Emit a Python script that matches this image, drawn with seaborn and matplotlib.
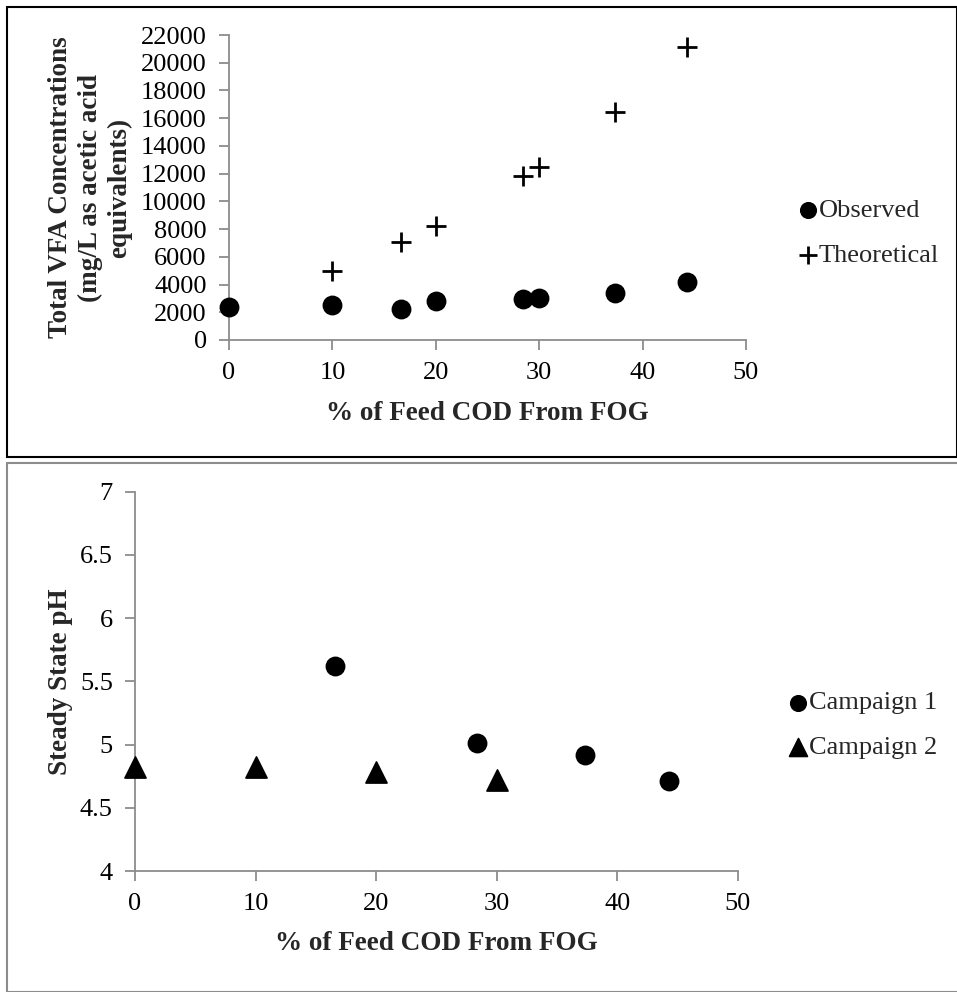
import matplotlib
matplotlib.use("Agg")
import matplotlib.pyplot as plt
import matplotlib.patches as mpatches
import pandas as pd
import seaborn as sns

# VFA data (top panel)
fog_obs = [0, 10, 16.6, 20, 28.4, 30, 37.3, 44.3]
vfa_obs = [2400, 2520, 2240, 2810, 2960, 3050, 3370, 4210]
fog_theo = [10, 16.6, 20, 28.4, 30, 37.3, 44.3]
vfa_theo = [4950, 7050, 8250, 11800, 12500, 16450, 21150]

# pH data (bottom panel)
fog_c1 = [16.6, 28.4, 37.3, 44.3]
ph_c1 = [5.62, 5.01, 4.92, 4.71]
fog_c2 = [0, 10, 20, 30]
ph_c2 = [4.82, 4.82, 4.78, 4.72]

sns.set_style("ticks")
plt.rcParams["font.family"] = ["Liberation Serif", "DejaVu Serif"]
plt.rcParams["font.size"] = 19

grey = "#8c8c8c"
tick_fs = 19
label_fs = 19.5
legend_fs = 19

fig = plt.figure(figsize=(9.57, 9.92), dpi=100)

# panel borders
fig.patches.append(mpatches.Rectangle((6.5 / 957, 1 - 457 / 992), 950 / 957, 450 / 992,
                                      transform=fig.transFigure, fill=False,
                                      edgecolor="black", linewidth=1.5))
fig.patches.append(mpatches.Rectangle((7 / 957, 0.0), 952 / 957, 1 - 462.5 / 992,
                                      transform=fig.transFigure, fill=False,
                                      edgecolor=grey, linewidth=1.5))

df_obs = pd.DataFrame({"x": fog_obs, "y": vfa_obs})
df_theo = pd.DataFrame({"x": fog_theo, "y": vfa_theo})
df_c1 = pd.DataFrame({"x": fog_c1, "y": ph_c1})
df_c2 = pd.DataFrame({"x": fog_c2, "y": ph_c2})


def style_axes(ax):
    sns.despine(ax=ax)
    for side in ["left", "bottom"]:
        ax.spines[side].set_color(grey)
        ax.spines[side].set_linewidth(1.3)
        ax.spines[side].set_zorder(0)
    ax.tick_params(axis="both", colors=grey, labelcolor="black", length=7,
                   width=1.3, labelsize=tick_fs)
    ax.tick_params(axis="y", pad=9)
    ax.tick_params(axis="x", pad=9)
    ax.set_xlim(0, 50)
    ax.set_xticks([0, 10, 20, 30, 40, 50])


# top panel
ax1 = fig.add_axes([229 / 957, 1 - 340 / 992, 517 / 957, 305 / 992])
sns.scatterplot(data=df_obs, x="x", y="y", ax=ax1, marker="o", s=175,
                color="black", edgecolor="black", label="Observed", clip_on=False, zorder=3)
sns.scatterplot(data=df_theo, x="x", y="y", ax=ax1, marker="+", s=220,
                color="black", linewidth=2, label="Theoretical", clip_on=False, zorder=3)
style_axes(ax1)
ax1.set_ylim(0, 22000)
ax1.set_yticks(range(0, 22001, 2000))
ax1.set_xlabel("% of Feed COD From FOG", fontweight="bold", fontsize=label_fs, labelpad=12)
ax1.set_ylabel("Total VFA Concentrations\n(mg/L as acetic acid\nequivalents)",
               fontweight="bold", fontsize=label_fs, labelpad=6, linespacing=1.25)
ax1.legend(loc="center left", bbox_to_anchor=(800 / 957, 1 - 233 / 992),
           bbox_transform=fig.transFigure, frameon=False, fontsize=legend_fs,
           handlelength=0.6, handletextpad=0.12, labelspacing=0.82,
           borderaxespad=0, borderpad=0, markerscale=0.85)

# bottom panel
ax2 = fig.add_axes([135 / 957, 1 - 871 / 992, 602.7 / 957, 379.3 / 992])
sns.scatterplot(data=df_c1, x="x", y="y", ax=ax2, marker="o", s=175,
                color="black", edgecolor="black", label="Campaign 1", clip_on=False, zorder=3)
sns.scatterplot(data=df_c2, x="x", y="y", ax=ax2, marker="^", s=230,
                color="black", edgecolor="black", label="Campaign 2", clip_on=False, zorder=3)
style_axes(ax2)
ax2.set_ylim(4, 7)
ax2.set_yticks([4, 4.5, 5, 5.5, 6, 6.5, 7])
ax2.set_yticklabels(["4", "4.5", "5", "5.5", "6", "6.5", "7"])
ax2.set_xlabel("% of Feed COD From FOG", fontweight="bold", fontsize=label_fs, labelpad=11)
ax2.set_ylabel("Steady State pH", fontweight="bold", fontsize=label_fs, labelpad=5)
ax2.legend(loc="center left", bbox_to_anchor=(790 / 957, 1 - 725 / 992),
           bbox_transform=fig.transFigure, frameon=False, fontsize=legend_fs,
           handlelength=0.6, handletextpad=0.12, labelspacing=0.8,
           borderaxespad=0, borderpad=0, markerscale=0.85)

fig.savefig("out.png", dpi=100)
